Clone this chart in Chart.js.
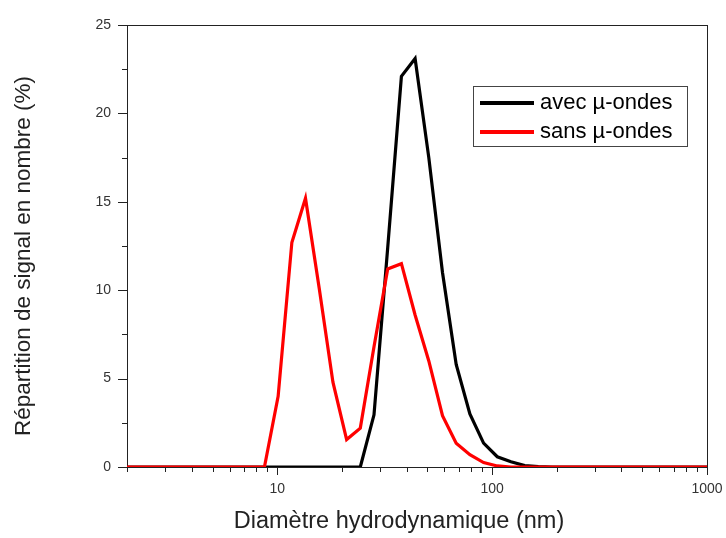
<!DOCTYPE html>
<html>
<head>
<meta charset="utf-8">
<script src="https://cdn.jsdelivr.net/npm/chart.js@4.4.0/dist/chart.umd.min.js"></script>
<style>
  html, body { margin: 0; padding: 0; background: #fff; }
</style>
</head>
<body>
<canvas id="chart" width="726" height="538"></canvas>
<script>
// classes de taille DLS (nm)
const sizes = [1.736, 2.01, 2.328, 2.696, 3.122, 3.615, 4.187, 4.849, 5.615, 6.503, 7.531, 8.721,
  10.1, 11.7, 13.54, 15.69, 18.17, 21.04, 24.36, 28.21, 32.67, 37.84, 43.82, 50.75, 58.77, 68.06,
  78.82, 91.28, 105.7, 122.4, 141.8, 164.2, 190.1, 220.2, 255.0, 295.3, 342.0, 396.1, 458.7,
  531.2, 615.1, 712.4, 825.0, 955.4, 1106];

const avecMicroOndes = [0, 0, 0, 0, 0, 0, 0, 0, 0, 0, 0, 0,
  0, 0, 0, 0, 0, 0, 0, 2.95, 12.4, 22.1, 23.1, 17.5, 11.0, 5.8,
  3.0, 1.35, 0.58, 0.3, 0.08, 0.02, 0, 0, 0, 0, 0, 0, 0,
  0, 0, 0, 0, 0, 0];

const sansMicroOndes = [0, 0, 0, 0, 0, 0, 0, 0, 0, 0, 0, 0,
  4.0, 12.7, 15.2, 10.1, 4.8, 1.55, 2.2, 6.8, 11.2, 11.5, 8.6, 6.0, 2.9, 1.35,
  0.7, 0.25, 0.06, 0, 0, 0, 0, 0, 0, 0, 0, 0, 0,
  0, 0, 0, 0, 0, 0];

const seriesLabels = ['avec µ-ondes', 'sans µ-ondes'];
const seriesColors = ['#000000', '#ff0000'];

const xTickValues = [2, 3, 4, 5, 6, 7, 8, 9, 10, 20, 30, 40, 50, 60, 70, 80, 90,
  100, 200, 300, 400, 500, 600, 700, 800, 900, 1000];
const xLabeledTicks = [10, 100, 1000];
const yMajorTicks = [0, 5, 10, 15, 20, 25];
const yMinorTicks = [2.5, 7.5, 12.5, 17.5, 22.5];

const xTitle = 'Diamètre hydrodynamique (nm)';
const yTitle = 'Répartition de signal en nombre (%)';

const FONT = '"Liberation Sans", Arial, sans-serif';

function toPoints(values) {
  return sizes.map((s, i) => ({ x: s, y: values[i] }));
}

// cadre + graduations (dessinés sous les courbes)
const frameTicks = {
  id: 'frameTicks',
  beforeDatasetsDraw(chart) {
    const { ctx, chartArea: a, scales: { x, y } } = chart;
    ctx.save();
    ctx.strokeStyle = '#222';
    ctx.lineWidth = 1;
    ctx.strokeRect(a.left + 0.5, a.top + 0.5, a.right - a.left, a.bottom - a.top);
    ctx.beginPath();
    xTickValues.forEach(v => {
      const px = Math.round(x.getPixelForValue(v)) + 0.5;
      const len = xLabeledTicks.includes(v) ? 8 : 5;
      ctx.moveTo(px, a.bottom);
      ctx.lineTo(px, a.bottom + len);
    });
    yMajorTicks.forEach(v => {
      const py = Math.round(y.getPixelForValue(v)) + 0.5;
      ctx.moveTo(a.left, py);
      ctx.lineTo(a.left - 9, py);
    });
    yMinorTicks.forEach(v => {
      const py = Math.round(y.getPixelForValue(v)) + 0.5;
      ctx.moveTo(a.left, py);
      ctx.lineTo(a.left - 5, py);
    });
    ctx.stroke();

    // titres des axes
    ctx.fillStyle = '#222';
    ctx.textAlign = 'center';
    ctx.textBaseline = 'alphabetic';
    ctx.font = '23.5px ' + FONT;
    ctx.fillText(xTitle, 399, 528);
    ctx.translate(30, 256);
    ctx.rotate(-Math.PI / 2);
    ctx.font = '22.5px ' + FONT;
    ctx.fillText(yTitle, 0, 0);
    ctx.restore();
  }
};

// légende encadrée dans la zone de tracé
const legendBox = {
  id: 'legendBox',
  afterDraw(chart) {
    const ctx = chart.ctx;
    ctx.save();
    ctx.strokeStyle = '#444';
    ctx.lineWidth = 1;
    ctx.strokeRect(473.5, 86.5, 214, 60);
    ctx.font = '22px ' + FONT;
    ctx.textBaseline = 'middle';
    chart.data.datasets.forEach((ds, i) => {
      const yy = 103 + i * 29;
      ctx.strokeStyle = ds.borderColor;
      ctx.lineWidth = 4;
      ctx.beginPath();
      ctx.moveTo(480, yy);
      ctx.lineTo(534, yy);
      ctx.stroke();
      ctx.fillStyle = '#000';
      ctx.fillText(ds.label, 540, yy);
    });
    ctx.restore();
  }
};

new Chart(document.getElementById('chart'), {
  type: 'line',
  data: {
    datasets: [
      { label: seriesLabels[0], data: toPoints(avecMicroOndes), borderColor: seriesColors[0],
        borderWidth: 3.2, pointRadius: 0, tension: 0, order: 1 },
      { label: seriesLabels[1], data: toPoints(sansMicroOndes), borderColor: seriesColors[1],
        borderWidth: 3.2, pointRadius: 0, tension: 0, order: 0 }
    ]
  },
  options: {
    responsive: false,
    animation: false,
    devicePixelRatio: 1,
    layout: { padding: { left: 0, right: 19, top: 25, bottom: 0 } },
    plugins: { legend: { display: false }, tooltip: { enabled: false } },
    scales: {
      x: {
        type: 'logarithmic',
        min: 2,
        max: 1000,
        afterBuildTicks: s => { s.ticks = xTickValues.map(v => ({ value: v })); },
        afterFit: s => { s.height = 71; s.paddingLeft = 0; s.paddingRight = 0; },
        grid: { display: false, drawTicks: false },
        border: { display: false },
        ticks: {
          autoSkip: false,
          maxRotation: 0,
          padding: 14,
          color: '#333',
          font: { family: FONT, size: 14 },
          callback: v => xLabeledTicks.includes(v) ? String(v) : ''
        }
      },
      y: {
        min: 0,
        max: 25,
        afterBuildTicks: s => { s.ticks = yMajorTicks.map(v => ({ value: v })); },
        afterFit: s => { s.width = 127; s.paddingTop = 0; s.paddingBottom = 0; },
        grid: { display: false, drawTicks: false },
        border: { display: false },
        ticks: {
          padding: 16,
          color: '#333',
          font: { family: FONT, size: 14 }
        }
      }
    }
  },
  plugins: [frameTicks, legendBox]
});
</script>
</body>
</html>
